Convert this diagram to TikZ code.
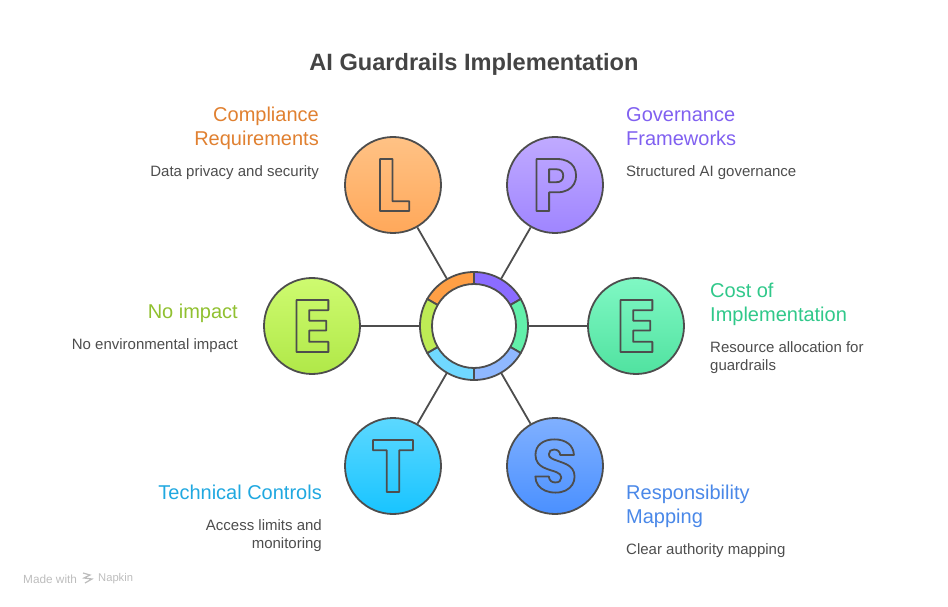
\documentclass[tikz,border=0pt]{standalone}
\usepackage{fontspec}
\setmainfont{Liberation Sans}
\newfontfamily\badgefont{Poppins}
\usetikzlibrary{positioning}
\definecolor{linegray}{HTML}{4D4D4D}
\definecolor{titlegray}{HTML}{444444}
\definecolor{marklight}{HTML}{BDBDBD}
\definecolor{compcol}{HTML}{E08030}
\definecolor{govcol}{HTML}{8060F0}
\definecolor{costcol}{HTML}{30C88A}
\definecolor{respcol}{HTML}{4A88E8}
\definecolor{techcol}{HTML}{20A8E0}
\definecolor{nonecol}{HTML}{90C030}
\definecolor{ltop}{HTML}{FFC285}
\definecolor{lbot}{HTML}{FFA85A}
\definecolor{ptop}{HTML}{C0AAFF}
\definecolor{pbot}{HTML}{9F85FF}
\definecolor{etop}{HTML}{80F8C4}
\definecolor{ebot}{HTML}{50E2A0}
\definecolor{stop}{HTML}{80B0FF}
\definecolor{sbot}{HTML}{4A90FF}
\definecolor{ttop}{HTML}{5CD8FF}
\definecolor{tbot}{HTML}{18C4FF}
\definecolor{ntop}{HTML}{CEFB70}
\definecolor{nbot}{HTML}{B0E848}
\definecolor{lring}{HTML}{FF9F45}
\definecolor{pring}{HTML}{8B6CFF}
\definecolor{ering}{HTML}{62F0AA}
\definecolor{sring}{HTML}{8FB8FF}
\definecolor{tring}{HTML}{70D8FF}
\definecolor{nring}{HTML}{BEEB55}
\newcommand{\hollowletter}[1]{{\badgefont\bfseries\fontsize{74}{74}\selectfont\special{pdf:code 1 Tr 1.8 w 1 j 0.302 0.302 0.302 RG}#1\special{pdf:code 0 Tr}}}
\tikzset{
    badge/.style={draw=linegray, line width=1.8pt, circle, minimum size=96pt, inner sep=0pt},
    headl/.style={anchor=north east, align=right, inner sep=0pt, text depth=5pt, font=\fontsize{20}{24}\selectfont},
    headr/.style={anchor=north west, align=left, inner sep=0pt, text depth=5pt, font=\fontsize{20}{24}\selectfont},
    descl/.style={anchor=north east, align=right, inner sep=0pt, text=linegray, font=\fontsize{15}{18}\selectfont},
    descr/.style={anchor=north west, align=left, inner sep=0pt, text=linegray, font=\fontsize{15}{18}\selectfont},
    spoke/.style={draw=linegray, line width=1.8pt},
    ringseg/.style={draw=linegray, line width=1.8pt, line join=round}
}
\begin{document}
\begin{tikzpicture}[x=1pt, y=1pt]
    \useasboundingbox (0,0) rectangle (948,606);
    \node[font=\fontsize{23.6}{28}\selectfont\bfseries, text=titlegray] (title) at (474,542) {AI Guardrails Implementation};

    \node[circle, minimum size=108pt, inner sep=0pt] (hub) at (474,280) {};
    \node[badge, top color=ltop, bottom color=lbot] (lnode) at (393,421) {};
    \node[badge, top color=ptop, bottom color=pbot] (pnode) at (555,421) {};
    \node[badge, top color=etop, bottom color=ebot] (enode) at (636,280) {};
    \node[badge, top color=stop, bottom color=sbot] (snode) at (555,140) {};
    \node[badge, top color=ttop, bottom color=tbot] (tnode) at (393,140) {};
    \node[badge, top color=ntop, bottom color=nbot] (nnode) at (312,280) {};
    \node (lglyph) at (lnode) {\hollowletter{L}};
    \node (pglyph) at (pnode) {\hollowletter{P}};
    \node (eglyph) at (enode) {\hollowletter{E}};
    \node (sglyph) at (snode) {\hollowletter{S}};
    \node (tglyph) at (tnode) {\hollowletter{T}};
    \node (nglyph) at (nnode) {\hollowletter{E}};

    \foreach \target in {lnode, pnode, enode, snode, tnode, nnode}
        \draw[spoke] (\target) -- (hub);

    % ring pieces
    \foreach \a/\b/\c in {90/150/lring, 30/90/pring, -30/30/ering, -90/-30/sring, 210/270/tring, 150/210/nring}
        \filldraw[ringseg, fill=\c] ([shift={(hub)}]\a:54) arc[start angle=\a, end angle=\b, radius=54]
            -- ([shift={(hub)}]\b:42) arc[start angle=\b, end angle=\a, radius=42] -- cycle;

    \node[headl, text=compcol] (lhead) at (319,499) {Compliance\\Requirements};
    \node[descl, below=15pt of lhead.south east, anchor=north east] (ldesc) {Data privacy and security};
    \node[headr, text=govcol] (phead) at (626,499) {Governance\\Frameworks};
    \node[descr, below=15pt of phead.south west, anchor=north west] (pdesc) {Structured AI governance};
    \node[headr, text=costcol] (ehead) at (710,323) {Cost of\\Implementation};
    \node[descr, below=15pt of ehead.south west, anchor=north west] (edesc) {Resource allocation for\\guardrails};
    \node[headr, text=respcol] (shead) at (626,121) {Responsibility\\Mapping};
    \node[descr, below=15pt of shead.south west, anchor=north west] (sdesc) {Clear authority mapping};
    \node[headl, text=techcol] (thead) at (322,121) {Technical Controls};
    \node[descl, below=15pt of thead.south east, anchor=north east] (tdesc) {Access limits and\\monitoring};
    \node[headl, text=nonecol] (nhead) at (238,302) {No impact};
    \node[descl, below=15pt of nhead.south east, anchor=north east] (ndesc) {No environmental impact};

    % watermark
    \node[anchor=west, inner sep=0pt, text=marklight, font=\fontsize{11.8}{13}\selectfont] (madewith) at (23,27) {Made with};
    \node[anchor=west, inner sep=0pt, text=marklight, font=\fontsize{11.2}{13}\selectfont] (napkin) at (98,27) {Napkin};
    \draw[marklight, line width=1.2pt] (83,33) -- (90,31) -- (84,28) -- (92,27) -- (85,23);
\end{tikzpicture}
\end{document}
